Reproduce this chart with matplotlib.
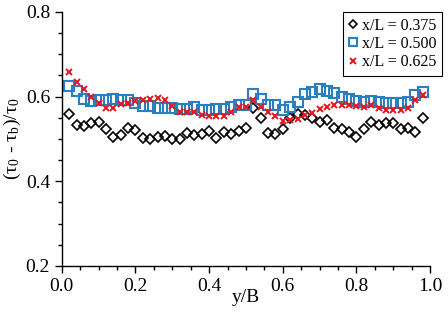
import numpy as np
import matplotlib
matplotlib.use('Agg')
import matplotlib.pyplot as plt
from matplotlib.ticker import MultipleLocator

plt.rcParams['font.family'] = ['Liberation Serif', 'DejaVu Serif']
plt.rcParams['mathtext.fontset'] = 'stix'

# y/B positions
y_b = np.arange(1, 50) * 0.02

# (tau0 - taub)/tau0 for each section
xl_0375 = [0.560, 0.534, 0.530, 0.537, 0.541, 0.523, 0.505, 0.509, 0.525, 0.521,
           0.503, 0.501, 0.505, 0.507, 0.499, 0.499, 0.515, 0.509, 0.512, 0.519,
           0.503, 0.517, 0.512, 0.519, 0.525, 0.572, 0.549, 0.515, 0.512, 0.523,
           0.549, 0.559, 0.556, 0.549, 0.541, 0.545, 0.527, 0.523, 0.517, 0.505,
           0.523, 0.541, 0.533, 0.537, 0.537, 0.523, 0.525, 0.517, 0.549]
xl_0500 = [0.625, 0.613, 0.595, 0.590, 0.592, 0.591, 0.594, 0.592, 0.592, 0.585,
           0.577, 0.578, 0.574, 0.574, 0.574, 0.571, 0.571, 0.576, 0.569, 0.569,
           0.570, 0.570, 0.576, 0.581, 0.581, 0.607, 0.594, 0.581, 0.581, 0.568,
           0.576, 0.588, 0.606, 0.612, 0.617, 0.613, 0.608, 0.600, 0.594, 0.590,
           0.588, 0.590, 0.588, 0.586, 0.586, 0.586, 0.588, 0.604, 0.610]
xl_0625 = [0.659, 0.635, 0.617, 0.599, 0.584, 0.572, 0.573, 0.582, 0.585, 0.589,
           0.592, 0.595, 0.597, 0.592, 0.577, 0.563, 0.564, 0.564, 0.557, 0.554,
           0.554, 0.554, 0.564, 0.575, 0.576, 0.593, 0.576, 0.564, 0.554, 0.543,
           0.545, 0.546, 0.556, 0.562, 0.570, 0.576, 0.579, 0.580, 0.580, 0.578,
           0.576, 0.580, 0.574, 0.568, 0.568, 0.568, 0.574, 0.592, 0.604]

fig = plt.figure(figsize=(4.48, 3.22), dpi=100)
ax = fig.add_axes([0.138, 0.174, 0.822, 0.789])

ax.plot(y_b, xl_0375, linestyle='none', marker='D', ms=5, mfc='none',
        mec='black', mew=1.2, label='x/L = 0.375')
ax.plot(y_b, xl_0500, linestyle='none', marker='s', ms=7, mfc='none',
        mec='#2a7fc0', mew=1.5, label='x/L = 0.500')
ax.plot(y_b, xl_0625, linestyle='none', marker='x', ms=5, mec='#e8141c',
        mew=1.4, label='x/L = 0.625')

ax.set_xlim(0, 1.0)
ax.set_ylim(0.2, 0.8)
ax.xaxis.set_major_locator(MultipleLocator(0.2))
ax.xaxis.set_minor_locator(MultipleLocator(0.05))
ax.yaxis.set_major_locator(MultipleLocator(0.2))
ax.yaxis.set_minor_locator(MultipleLocator(0.05))
ax.xaxis.set_major_formatter(plt.FormatStrFormatter('%.1f'))
ax.yaxis.set_major_formatter(plt.FormatStrFormatter('%.1f'))
ax.tick_params(which='major', direction='out', length=5, width=1, labelsize=14)
ax.tick_params(which='minor', direction='out', length=3, width=1)
for s in ['top', 'right']:
    ax.spines[s].set_visible(False)
for s in ['left', 'bottom']:
    ax.spines[s].set_linewidth(1)

ax.set_xlabel('y/B', fontsize=14, labelpad=-4)
ax.set_ylabel(r'(τ$_\mathregular{0}$ - τ$_\mathregular{b}$)/τ$_\mathregular{0}$',
              fontsize=14, labelpad=2)

leg = ax.legend(loc='upper right', bbox_to_anchor=(0.987, 0.963),
                bbox_transform=fig.transFigure, fontsize=11.5, numpoints=1,
                handlelength=0.6, handletextpad=0.25, borderpad=0.35,
                labelspacing=0.15, fancybox=False, framealpha=1,
                edgecolor='black', borderaxespad=0, markerscale=0.85)
leg.get_frame().set_linewidth(0.8)

fig.savefig('out.png', dpi=100)
